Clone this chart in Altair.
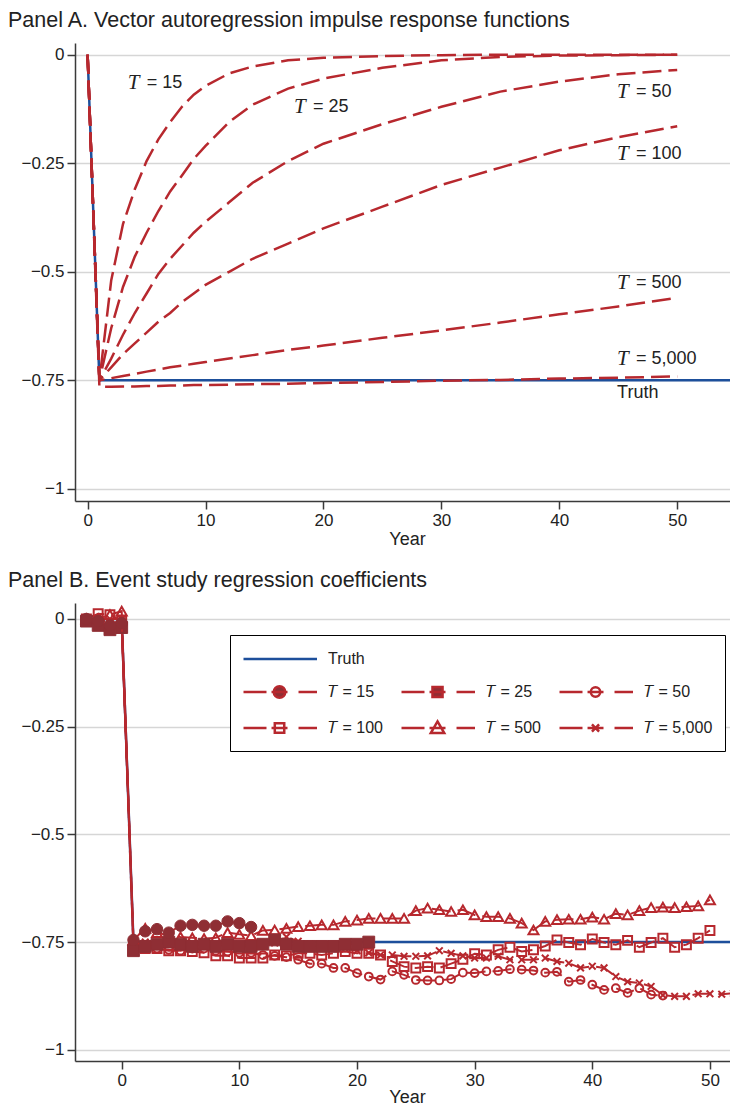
import altair as alt
import pandas as pd

# ---------------- Panel A: VAR impulse responses ----------------
irf_years = [0, 1, 2, 3, 4, 5, 6, 7, 8, 9, 10, 12, 14, 17, 20, 25, 30, 35, 40, 45, 50]
irf_T15 = [0, -0.75, -0.52, -0.39, -0.31, -0.245, -0.195, -0.155, -0.12, -0.092, -0.072,
           -0.043, -0.027, -0.013, -0.007, -0.003, -0.001, 0, 0, 0, 0]
irf_T25 = [0, -0.75, -0.63, -0.535, -0.465, -0.41, -0.36, -0.315, -0.278, -0.24, -0.21,
           -0.155, -0.115, -0.078, -0.055, -0.03, -0.013, -0.005, -0.002, -0.001, 0]
irf_T50 = [0, -0.75, -0.70, -0.645, -0.595, -0.55, -0.505, -0.47, -0.44, -0.41, -0.385,
           -0.34, -0.295, -0.245, -0.205, -0.16, -0.12, -0.085, -0.062, -0.045, -0.035]
irf_T100 = [0, -0.75, -0.72, -0.69, -0.665, -0.64, -0.615, -0.595, -0.57, -0.55, -0.53,
            -0.50, -0.47, -0.435, -0.40, -0.35, -0.30, -0.26, -0.22, -0.19, -0.165]
irf_T500 = [0, -0.75, -0.745, -0.74, -0.735, -0.73, -0.725, -0.72, -0.716, -0.712, -0.708,
            -0.70, -0.692, -0.68, -0.67, -0.652, -0.635, -0.617, -0.598, -0.58, -0.56]
irf_T5000 = [0, -0.765, -0.765, -0.764, -0.764, -0.763, -0.763, -0.762, -0.762, -0.761, -0.761,
             -0.76, -0.759, -0.758, -0.756, -0.754, -0.751, -0.749, -0.746, -0.744, -0.741]
truth_a_years = [0, 1, 55]
truth_a_vals = [0, -0.75, -0.75]

irf_names = ["T15", "T25", "T50", "T100", "T500", "T5000"]
irf_series = [irf_T15, irf_T25, irf_T50, irf_T100, irf_T500, irf_T5000]

# curve labels (annotation anchors, data coordinates)
lab_suffix = ["= 15", "= 25", "= 50", "= 100", "= 500", "= 5,000"]
lab_x = [3.4, 17.5, 44.9, 44.9, 44.9, 44.9]
lab_y = [-0.066, -0.12, -0.085, -0.229, -0.526, -0.701]
truth_lab_x = [44.9]
truth_lab_y = [-0.779]

# ---------------- Panel B: event-study coefficients ----------------
es_T15 = [0.0, -0.005, -0.015, -0.01,
          -0.745, -0.725, -0.72, -0.728, -0.712, -0.71, -0.712, -0.712, -0.702, -0.706, -0.715]
es_T25 = [-0.005, -0.015, -0.025, -0.02,
          -0.77, -0.76, -0.755, -0.75, -0.755, -0.76, -0.755, -0.76, -0.755, -0.76, -0.76,
          -0.755, -0.745, -0.755, -0.76, -0.76, -0.76, -0.76, -0.755, -0.755, -0.75]
es_T50 = [0.0, 0.0, -0.01, -0.005,
          -0.75, -0.76, -0.765, -0.768, -0.77, -0.765, -0.765, -0.77, -0.772, -0.775,
          -0.775, -0.78, -0.782, -0.785, -0.791, -0.80, -0.80, -0.81, -0.81, -0.822,
          -0.83, -0.837, -0.818, -0.826, -0.838, -0.839, -0.839, -0.836, -0.821, -0.822,
          -0.818, -0.817, -0.813, -0.814, -0.816, -0.821, -0.819, -0.842, -0.838, -0.849,
          -0.861, -0.857, -0.868, -0.857, -0.872, -0.874]
es_T100 = [0.0, 0.012, 0.01, -0.005,
           -0.76, -0.765, -0.765, -0.77, -0.77, -0.772, -0.775, -0.782, -0.782, -0.787,
           -0.787, -0.787, -0.78, -0.782, -0.776, -0.776, -0.78, -0.776, -0.772, -0.776,
           -0.776, -0.78, -0.795, -0.807, -0.81, -0.807, -0.81, -0.80, -0.79, -0.777,
           -0.78, -0.768, -0.762, -0.772, -0.768, -0.759, -0.745, -0.751, -0.756, -0.743,
           -0.751, -0.756, -0.746, -0.762, -0.751, -0.741, -0.762, -0.756, -0.741, -0.723]
es_T500 = [0.0, 0.0, 0.01, 0.018,
           -0.745, -0.718, -0.728, -0.735, -0.738, -0.74, -0.742, -0.74, -0.728, -0.732,
           -0.735, -0.723, -0.722, -0.718, -0.714, -0.712, -0.71, -0.71, -0.702, -0.699,
           -0.695, -0.695, -0.695, -0.695, -0.677, -0.671, -0.675, -0.679, -0.675, -0.687,
           -0.691, -0.691, -0.695, -0.706, -0.722, -0.702, -0.698, -0.697, -0.697, -0.692,
           -0.697, -0.684, -0.687, -0.677, -0.670, -0.669, -0.670, -0.668, -0.666, -0.652]
es_T5000 = [0.0, 0.0, 0.0, 0.0,
            -0.755, -0.75, -0.752, -0.755, -0.755, -0.752, -0.755, -0.755, -0.752, -0.755,
            -0.757, -0.755, -0.752, -0.738, -0.748, -0.755, -0.757, -0.76, -0.765, -0.77,
            -0.775, -0.78, -0.78, -0.783, -0.783, -0.782, -0.77, -0.776, -0.782, -0.787,
            -0.787, -0.783, -0.791, -0.791, -0.791, -0.787, -0.795, -0.799, -0.81, -0.806,
            -0.81, -0.83, -0.842, -0.845, -0.853, -0.873, -0.876, -0.876, -0.87, -0.87,
            -0.871, -0.869]
truth_b_years = [-3, 0, 1, 52]
truth_b_vals = [0, 0, -0.75, -0.75]

# legend entries (column-major order of a 3x3 grid; blanks keep "Truth" alone on row 1)
legend_labels = ["Truth", "𝑇 = 15", "𝑇 = 100", " ", "𝑇 = 25", "𝑇 = 500",
                 "  ", "𝑇 = 50", "𝑇 = 5,000"]

# ---------------- styles ----------------
RED = "#b7282e"
DARK = "#8f2e34"
BLUE = "#1d4f9b"
GRID = "#d6d6d6"
AXIS = "#3a3a3a"
TEXT = "#222222"
FONT = "Liberation Sans"
DASH = [19, 7]
PLOT_W, PLOT_H = 664, 458

# ---------------- Panel A ----------------
xA = alt.X("x:Q", scale=alt.Scale(domain=[-1.07, 55.24], nice=False, zero=False),
           axis=alt.Axis(values=[0, 10, 20, 30, 40, 50], format="d", title="Year", grid=False))
yA = alt.Y("y:Q", scale=alt.Scale(domain=[-1.028, 0.027], nice=False, zero=False),
           axis=alt.Axis(values=[0, -0.25, -0.5, -0.75, -1], format=".2~f", title=None,
                         grid=True, minExtent=67))

df_truth_a = pd.DataFrame({"x": truth_a_years, "y": truth_a_vals})
rows = []
for name, vals in zip(irf_names, irf_series):
    for xv, yv in zip(irf_years, vals):
        rows.append({"x": xv, "y": yv, "series": name})
df_curves_a = pd.DataFrame(rows)
df_lab = pd.DataFrame({"x": lab_x, "y": lab_y, "suffix": lab_suffix})
df_truth_lab = pd.DataFrame({"x": truth_lab_x, "y": truth_lab_y})

truthA = alt.Chart(df_truth_a).mark_line(color=BLUE, strokeWidth=2.5).encode(x=xA, y=yA)
curvesA = alt.Chart(df_curves_a).mark_line(color=RED, strokeWidth=2.5, strokeDash=DASH).encode(
    x=xA, y=yA, detail="series:N")
labT = alt.Chart(df_lab).mark_text(align="left", baseline="middle", font="Liberation Serif",
                                   fontStyle="italic", fontSize=21, color=TEXT).encode(
    x=xA, y=yA, text=alt.value("T"))
labRest = alt.Chart(df_lab).mark_text(align="left", baseline="middle", font=FONT, fontSize=18,
                                      color=TEXT, dx=19).encode(x=xA, y=yA, text="suffix:N")
labTruth = alt.Chart(df_truth_lab).mark_text(align="left", baseline="middle", font=FONT,
                                             fontSize=18, color=TEXT).encode(
    x=xA, y=yA, text=alt.value("Truth"))

panelA = alt.layer(truthA, curvesA, labT, labRest, labTruth).properties(
    width=PLOT_W, height=PLOT_H,
    title=alt.TitleParams("Panel A. Vector autoregression impulse response functions"))

# ---------------- Panel B ----------------
xB = alt.X("x:Q", scale=alt.Scale(domain=[-3.97, 52.47], nice=False, zero=False),
           axis=alt.Axis(values=[0, 10, 20, 30, 40, 50], format="d", title="Year", grid=False,
                         titlePadding=0))
yB = alt.Y("y:Q", scale=alt.Scale(domain=[-1.026, 0.037], nice=False, zero=False),
           axis=alt.Axis(values=[0, -0.25, -0.5, -0.75, -1], format=".2~f", title=None,
                         grid=True, minExtent=67))

X_PATH = "M-1,-1L1,1M-1,1L1,-1"
es_styles = [
    # name, values, shape, filled, size
    ("T5000", es_T5000, X_PATH, False, 45),
    ("T500", es_T500, "triangle-up", False, 100),
    ("T100", es_T100, "square", False, 80),
    ("T50", es_T50, "circle", False, 60),
    ("T25", es_T25, "square", True, 140),
    ("T15", es_T15, "circle", True, 130),
]

layersB = [alt.Chart(pd.DataFrame({"x": truth_b_years, "y": truth_b_vals}))
           .mark_line(color=BLUE, strokeWidth=2.5).encode(x=xB, y=yB)]
for name, vals, shape, filled, size in es_styles:
    yrs = list(range(-3, -3 + len(vals)))
    d = pd.DataFrame({"x": yrs, "y": vals})
    layersB.append(alt.Chart(d).mark_line(color=RED, strokeWidth=2, strokeDash=DASH)
                   .encode(x=xB, y=yB))
    if filled:
        pt = alt.Chart(d).mark_point(shape=shape, filled=True, size=size, fill=DARK,
                                     stroke=DARK, strokeWidth=1, opacity=1)
    else:
        pt = alt.Chart(d).mark_point(shape=shape, filled=False, size=size, stroke=RED,
                                     strokeWidth=2, opacity=1)
    layersB.append(pt.encode(x=xB, y=yB))

# legend symbols (unit = sqrt(symbolSize)/2 px): dashed line + marker glyph
mx = 2.43
line_dash = "M-1,0L1.19,0M1.67,0L3.19,0M4.24,0L6,0"


def circ(r):
    return f"M{mx - r},0A{r},{r} 0 1,0 {mx + r},0A{r},{r} 0 1,0 {mx - r},0Z"


def sq(h):
    return f"M{mx - h},{-h}L{mx + h},{-h}L{mx + h},{h}L{mx - h},{h}Z"


tri = f"M{mx},-0.62L{mx + 0.64},0.48L{mx - 0.64},0.48Z"
xm = f"M{mx - 0.34},-0.34L{mx + 0.34},0.34M{mx - 0.34},0.34L{mx + 0.34},-0.34"
blank_path = "M0,0L0.01,0"
sym = {
    "Truth": ("M-1,0L6,0", "transparent", BLUE),
    " ": (blank_path, "transparent", "transparent"),
    "  ": (blank_path, "transparent", "transparent"),
    "𝑇 = 15": (line_dash + circ(0.55), DARK, RED),
    "𝑇 = 25": (line_dash + sq(0.48), DARK, RED),
    "𝑇 = 50": (line_dash + circ(0.45), "transparent", RED),
    "𝑇 = 100": (line_dash + sq(0.45), "transparent", RED),
    "𝑇 = 500": (line_dash + tri, "transparent", RED),
    "𝑇 = 5,000": (line_dash + xm, "transparent", RED),
}
legend_paths = [sym[k][0] for k in legend_labels]
legend_fills = [sym[k][1] for k in legend_labels]
legend_strokes = [sym[k][2] for k in legend_labels]

leg = alt.Legend(title=None, orient="none", legendX=155, legendY=32, columns=3,
                 symbolSize=441, symbolStrokeWidth=2.5, labelOffset=62,
                 labelFont=FONT, labelFontSize=16, labelColor=TEXT, labelLimit=300,
                 rowPadding=13, columnPadding=13, padding=12,
                 strokeColor="black", fillColor="white", symbolOpacity=1)
legend_layer = alt.Chart(pd.DataFrame({"series": legend_labels})).transform_filter(
    "false").mark_point(opacity=1, strokeWidth=2.5).encode(
    shape=alt.Shape("series:N", scale=alt.Scale(domain=legend_labels, range=legend_paths),
                    legend=leg),
    fill=alt.Fill("series:N", scale=alt.Scale(domain=legend_labels, range=legend_fills),
                  legend=leg),
    stroke=alt.Stroke("series:N", scale=alt.Scale(domain=legend_labels, range=legend_strokes),
                      legend=leg),
)
layersB.append(legend_layer)

panelB = alt.layer(*layersB).properties(
    width=PLOT_W, height=PLOT_H,
    title=alt.TitleParams("Panel B. Event study regression coefficients"))

chart = alt.vconcat(panelA, panelB, spacing=21).resolve_legend(
    shape="independent", fill="independent", stroke="independent"
).properties(
    padding={"left": 0, "top": 2, "right": -12, "bottom": -1}
).configure_view(stroke=None).configure_axis(
    labelFont=FONT, labelFontSize=17, labelColor=TEXT, labelPadding=3,
    titleFont=FONT, titleFontSize=18, titleFontWeight="normal", titleColor=TEXT, titlePadding=2,
    domainColor=AXIS, domainWidth=1.5, tickColor=AXIS, tickWidth=1.5, tickSize=8,
    gridColor=GRID, gridWidth=1.5
).configure_title(
    font=FONT, fontSize=21.5, fontWeight="normal", color=TEXT, anchor="start",
    frame="group", dx=-67, offset=11.5
)

chart.save("out.html", embed_options={"renderer": "svg", "actions": False})
